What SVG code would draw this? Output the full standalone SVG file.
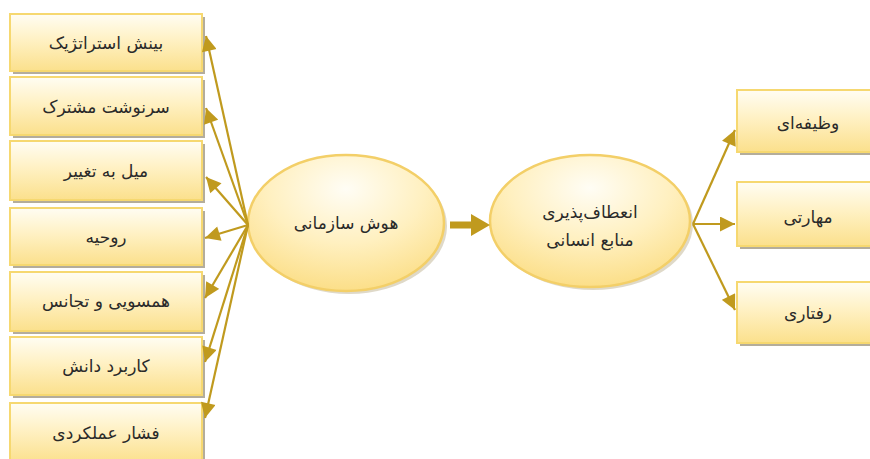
<svg xmlns="http://www.w3.org/2000/svg" width="870" height="459" viewBox="0 0 870 459">
<defs>
<linearGradient id="gBox" x1="0" y1="0" x2="0" y2="1">
<stop offset="0" stop-color="#fffdf3"/>
<stop offset="0.45" stop-color="#fff1c4"/>
<stop offset="1" stop-color="#fbe08c"/>
</linearGradient>
<radialGradient id="gEll" cx="0.5" cy="0.25" r="0.8">
<stop offset="0" stop-color="#fffdf5"/>
<stop offset="0.5" stop-color="#fff0c0"/>
<stop offset="1" stop-color="#fbdc80"/>
</radialGradient>
<marker id="ah" viewBox="0 0 10 10" refX="10" refY="5" markerWidth="17" markerHeight="15" markerUnits="userSpaceOnUse" orient="auto">
<path d="M0,0 L10,5 L0,10 Z" fill="#c09a1e"/>
</marker>
</defs>
<style>
.box{fill:url(#gBox);stroke:#f6d870;stroke-width:2}
.sh{fill:#b4ad9b}
.ell{fill:url(#gEll);stroke:#f3cf68;stroke-width:2.5}
.esh{fill:#c9bfa3;opacity:0.6}
.lbl{font-family:"DejaVu Sans",sans-serif;font-size:17px;fill:#2a2a2a;text-anchor:middle}
.con{stroke:#c09a1e;stroke-width:2.2;fill:none;marker-end:url(#ah)}
</style>
<rect width="870" height="459" fill="#ffffff"/>

<g id="b1"><rect class="sh" x="13" y="17" width="192" height="57"/><rect class="box" x="10" y="14" width="192" height="57"/><text class="lbl" x="106" y="49">بینش استراتژیک</text></g>
<g id="b2"><rect class="sh" x="13" y="80" width="192" height="58"/><rect class="box" x="10" y="77" width="192" height="58"/><text class="lbl" x="106" y="113">سرنوشت مشترک</text></g>
<g id="b3"><rect class="sh" x="13" y="144" width="192" height="59"/><rect class="box" x="10" y="141" width="192" height="59"/><text class="lbl" x="106" y="177">میل به تغییر</text></g>
<g id="b4"><rect class="sh" x="13" y="211" width="192" height="57"/><rect class="box" x="10" y="208" width="192" height="57"/><text class="lbl" x="106" y="243">روحیه</text></g>
<g id="b5"><rect class="sh" x="13" y="275" width="192" height="59"/><rect class="box" x="10" y="272" width="192" height="59"/><text class="lbl" x="106" y="307">همسویی و تجانس</text></g>
<g id="b6"><rect class="sh" x="13" y="340" width="192" height="58"/><rect class="box" x="10" y="337" width="192" height="58"/><text class="lbl" x="106" y="372">کاربرد دانش</text></g>
<g id="b7"><rect class="sh" x="13" y="406" width="192" height="60"/><rect class="box" x="10" y="403" width="192" height="60"/><text class="lbl" x="106" y="439">فشار عملکردی</text></g>

<g id="e1"><ellipse class="esh" cx="349" cy="226" rx="98" ry="68"/><ellipse class="ell" cx="346" cy="223" rx="98" ry="68"/><text class="lbl" x="346" y="229">هوش سازمانی</text></g>
<g id="e2"><ellipse class="esh" cx="593" cy="224" rx="100" ry="66"/><ellipse class="ell" cx="590" cy="221" rx="100" ry="66"/><text class="lbl" x="590" y="218">انعطاف‌پذیری</text><text class="lbl" x="590" y="246">منابع انسانی</text></g>

<g id="r1"><rect class="sh" x="740" y="93" width="140" height="62"/><rect class="box" x="737" y="90" width="140" height="62"/><text class="lbl" x="808" y="129">وظیفه‌ای</text></g>
<g id="r2"><rect class="sh" x="740" y="185" width="140" height="64"/><rect class="box" x="737" y="182" width="140" height="64"/><text class="lbl" x="808" y="223">مهارتی</text></g>
<g id="r3"><rect class="sh" x="740" y="285" width="140" height="61"/><rect class="box" x="737" y="282" width="140" height="61"/><text class="lbl" x="808" y="319">رفتاری</text></g>

<g id="connectors">
<line class="con" x1="248" y1="225" x2="206" y2="36"/>
<line class="con" x1="248" y1="225" x2="206" y2="108"/>
<line class="con" x1="248" y1="225" x2="206" y2="177"/>
<line class="con" x1="248" y1="225" x2="205" y2="238"/>
<line class="con" x1="248" y1="225" x2="205" y2="298"/>
<line class="con" x1="248" y1="225" x2="205" y2="362"/>
<line class="con" x1="248" y1="225" x2="205" y2="418"/>
<path d="M450,221.5 H471 V214 L490,225 L471,236 V228.5 H450 Z" fill="#c09a1e"/>
<line class="con" x1="693" y1="224" x2="735" y2="130"/>
<line class="con" x1="693" y1="224" x2="735" y2="224"/>
<line class="con" x1="693" y1="224" x2="735" y2="310"/>
</g>
</svg>
